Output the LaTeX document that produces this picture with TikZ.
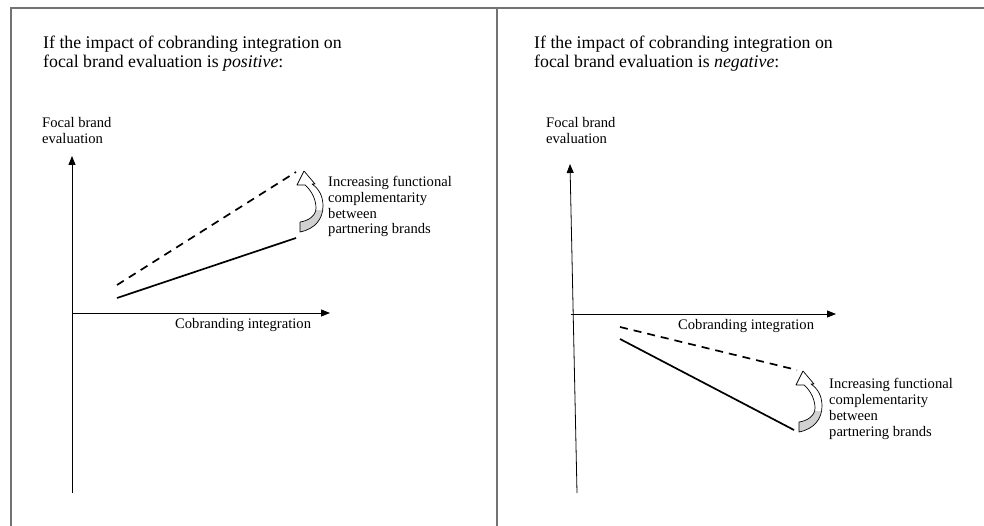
\documentclass[tikz,border=0pt]{standalone}
\usepackage{fontspec}
\setmainfont{Liberation Serif}
\usetikzlibrary{positioning,arrows.meta,calc}

% outline of the bent block arrow (local coordinates, origin at its foot)
\newcommand{\curlpath}{(0,0) .. controls (15,-3) and (23,-13) .. (23,-26)
  .. controls (23,-36) and (19,-43) .. (12,-48) -- (15,-48) -- (4,-61)
  -- (-3,-47) -- (5,-47) .. controls (12,-41) and (16,-32) .. (16,-24)
  .. controls (16,-16) and (8,-11) .. (0,-10) -- cycle}

\begin{document}
\begin{tikzpicture}[x=1pt,y=-1pt,
 frame/.style={draw=black!55, line width=1.3pt},
 axis/.style={line width=0.8pt, -{Triangle[length=9pt,width=7pt]}},
 solidline/.style={line width=1.7pt},
 dashline/.style={line width=1.7pt, dash pattern=on 8pt off 6pt},
 title/.style={anchor=base west, inner sep=0pt, align=left,
            font=\fontsize{17.8}{18.5}\selectfont},
 label/.style={anchor=base west, inner sep=0pt, align=left,
            font=\fontsize{14.6}{15.8}\selectfont},
 curlarrow/.pic={
    \fill[white] \curlpath;
    \begin{scope}
      \clip (-5,2) rectangle (30,-21);
      \fill[black!18] \curlpath;
    \end{scope}
    \draw[line width=0.7pt, line join=round] \curlpath;
 }]
    \useasboundingbox (0,0) rectangle (984,526);
    % panel frame
    \coordinate (ftl) at (11,8);
    \coordinate (ftr) at (984,8);
    \coordinate (fbl) at (11,526);
    \coordinate (fmt) at (497,8);
    \coordinate (fmb) at (497,526);
    \draw[frame] (fbl) -- (ftl) -- (ftr);
    \draw[frame] (fmt) -- (fmb);

    % left panel: positive impact (nodes placed at their last baseline)
    \node[title] (ltitle) at (43,67.5) {If the impact of cobranding integration on\\
        focal brand evaluation is \textit{positive}:};
    \node[label] (lylab) at (42,143.8) {Focal brand\\evaluation};
    \coordinate (lbot) at (72,493);
    \coordinate (ltop) at (72,156);
    \coordinate (lorig) at (72,313);
    \coordinate (lright) at (330,313);
    \draw[axis] (lbot) -- (ltop);
    \draw[axis] (lorig) -- (lright);
    \node[label] (lxlab) at (175,328) {Cobranding integration};
    \coordinate (lsa) at (117,298);
    \coordinate (lsb) at (296,238);
    \coordinate (lda) at (117,285);
    \coordinate (ldb) at (296,172);
    \draw[solidline] (lsa) -- (lsb);
    \draw[dashline] (lda) -- (ldb);
    \pic at (300,232) {curlarrow};
    \node[label] (lnote) at (328,234) {Increasing functional\\complementarity\\
        between\\partnering brands};

    % right panel: negative impact
    \node[title] (rtitle) at (534,67.5) {If the impact of cobranding integration on\\
        focal brand evaluation is \textit{negative}:};
    \node[label] (rylab) at (546,143.8) {Focal brand\\evaluation};
    \coordinate (rbot) at (577,493);
    \coordinate (rtop) at (570,164);
    \coordinate (rorig) at (571,314);
    \coordinate (rright) at (836,314);
    \draw[axis] (rbot) -- (rtop);
    \draw[axis] (rorig) -- (rright);
    \node[label] (rxlab) at (678,329) {Cobranding integration};
    \coordinate (rda) at (620,327);
    \coordinate (rdb) at (797,370);
    \coordinate (rsa) at (620,339);
    \coordinate (rsb) at (794,430);
    \draw[dashline] (rda) -- (rdb);
    \draw[solidline] (rsa) -- (rsb);
    \pic at (799,432) {curlarrow};
    \node[label] (rnote) at (829,436) {Increasing functional\\complementarity\\
        between\\partnering brands};
\end{tikzpicture}
\end{document}
